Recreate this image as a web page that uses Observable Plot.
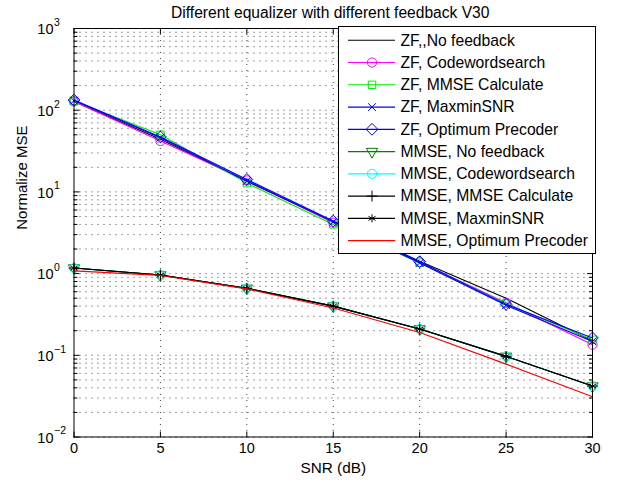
<!DOCTYPE html>
<html><head><meta charset="utf-8">
<script src="https://cdn.jsdelivr.net/npm/d3@7"></script>
<script src="https://cdn.jsdelivr.net/npm/@observablehq/plot@0.6"></script>
<style>
body{margin:0;background:#fff}
svg{font-family:"Liberation Sans",Arial,Helvetica,sans-serif}
</style>
</head><body><div id="chart"></div>
<script>
// ---- data ----
const snr = [0, 5, 10, 15, 20, 25, 30];
const zfNoFeedback      = [128, 44, 13.5, 4.3, 1.42, 0.50, 0.150];
const zfCodeword        = [128, 42, 13.8, 4.2, 1.38, 0.44, 0.135];
const zfMmseCalc        = [130, 50, 12.8, 4.0, 1.36, 0.43, 0.155];
const zfMaxmin          = [131, 46, 13.6, 4.3, 1.35, 0.41, 0.148];
const zfOptimum         = [133, 47, 14.2, 4.4, 1.40, 0.42, 0.163];
const mmseNoFeedback    = [1.17, 0.96, 0.66, 0.40, 0.21, 0.097, 0.042];
const mmseCodeword      = [1.17, 0.96, 0.66, 0.40, 0.21, 0.097, 0.042];
const mmseMmseCalc      = [1.17, 0.96, 0.66, 0.40, 0.21, 0.097, 0.042];
const mmseMaxmin        = [1.17, 0.96, 0.66, 0.40, 0.21, 0.097, 0.042];
const mmseOptimum       = [1.08, 0.95, 0.65, 0.38, 0.19, 0.078, 0.031];

const seriesNames = ["ZF,,No feedback", "ZF, Codewordsearch", "ZF, MMSE Calculate", "ZF, MaxminSNR",
  "ZF, Optimum Precoder", "MMSE, No feedback", "MMSE, Codewordsearch", "MMSE, MMSE Calculate",
  "MMSE, MaxminSNR", "MMSE, Optimum Precoder"];
const seriesValues = [zfNoFeedback, zfCodeword, zfMmseCalc, zfMaxmin, zfOptimum,
  mmseNoFeedback, mmseCodeword, mmseMmseCalc, mmseMaxmin, mmseOptimum];
const seriesColors = ["#000000", "#ff00ff", "#00ee00", "#0000ff", "#0000ff",
  "#008000", "#00ffff", "#000000", "#000000", "#ff0000"];
const seriesSymbols = [null, "circle", "square", "times", "diamond2",
  "triangle", "circle", "plus", "asterisk", null];
const seriesRotate = [0, 0, 0, 0, 0, 180, 0, 0, 0, 0];

const xTicks = [0, 5, 10, 15, 20, 25, 30];
const yExponents = [-2, -1, 0, 1, 2, 3];
const title = "Different equalizer with different feedback V30";
const xLabel = "SNR (dB)";
const yLabel = "Normalize MSE";

// ---- derived ----
const yMajor = yExponents.map(e => Math.pow(10, e));
const yMinor = [];
for (const e of yExponents.slice(0, -1)) for (let m = 2; m <= 9; m++) yMinor.push(m * Math.pow(10, e));
const yGrid = yMajor.concat(yMinor);
const xGrid = xTicks.slice(1, -1);

const symSize = {circle: 4.6, square: 4.2, times: 3.6, diamond2: 5.3, triangle: 4.2, plus: 3.6, asterisk: 3.8};
const tickShape = {draw(ctx, l) { ctx.moveTo(0, 0); ctx.lineTo(0, -l); }};

const marks = [];
marks.push(Plot.ruleY(yGrid, {y: d => d, stroke: "#000", strokeOpacity: 0.75, strokeDasharray: "1,5"}));
marks.push(Plot.ruleX(xGrid, {x: d => d, stroke: "#000", strokeOpacity: 0.75, strokeDasharray: "1,5"}));

seriesValues.forEach((vals, i) => {
  const rows = snr.map((x, j) => ({x, y: vals[j]}));
  marks.push(Plot.line(rows, {x: "x", y: "y", stroke: seriesColors[i], strokeWidth: 1.1}));
  if (seriesSymbols[i]) {
    marks.push(Plot.dot(rows, {x: "x", y: "y", symbol: seriesSymbols[i], r: symSize[seriesSymbols[i]],
      stroke: seriesColors[i], fill: "none", strokeWidth: 1, rotate: seriesRotate[i]}));
  }
});

marks.push(Plot.frame({stroke: "#000", strokeWidth: 1}));
// inward ticks
const vOpts = {shape: tickShape, anchor: "start", stroke: "#000", strokeWidth: 1};
marks.push(Plot.vector(xTicks, {...vOpts, x: d => d, y: 0.01, length: 5, rotate: 0}));
marks.push(Plot.vector(xTicks, {...vOpts, x: d => d, y: 1000, length: 5, rotate: 180}));
marks.push(Plot.vector(yMajor, {...vOpts, x: 0, y: d => d, length: 5, rotate: 90}));
marks.push(Plot.vector(yMajor, {...vOpts, x: 30, y: d => d, length: 5, rotate: -90}));
marks.push(Plot.vector(yMinor, {...vOpts, x: 0, y: d => d, length: 3, rotate: 90}));
marks.push(Plot.vector(yMinor, {...vOpts, x: 30, y: d => d, length: 3, rotate: -90}));

// tick labels
marks.push(Plot.text(xTicks, {x: d => d, y: 0.01, text: d => String(d), dy: 11, lineAnchor: "middle", fontSize: 14.5, fill: "#000"}));
marks.push(Plot.text(yMajor, {x: 0, y: d => d, text: () => "10", textAnchor: "end", dx: -20.5, dy: 1, lineAnchor: "middle", fontSize: 14.5, fill: "#000"}));
marks.push(Plot.text(yExponents, {x: 0, y: d => Math.pow(10, d), text: d => (d < 0 ? "\u2212" + (-d) : String(d)), textAnchor: "start", dx: -20, dy: -6, lineAnchor: "middle", fontSize: 10.5, fill: "#000"}));

// titles
marks.push(Plot.text([title], {frameAnchor: "top", text: d => d, lineAnchor: "bottom", dy: -11, dx: -3, fontSize: 15.6, fill: "#000"}));
marks.push(Plot.text([xLabel], {frameAnchor: "bottom", text: d => d, lineAnchor: "bottom", dy: 35.5, fontSize: 15.3, fill: "#000"}));
marks.push(Plot.text([yLabel], {frameAnchor: "left", text: d => d, rotate: -90, lineAnchor: "middle", dx: -52, dy: -3, fontSize: 15, fill: "#000"}));

const plot = Plot.plot({
  width: 624, height: 487,
  marginTop: 28, marginBottom: 50.5, marginLeft: 73.5, marginRight: 32,
  x: {domain: [0, 30]},
  y: {type: "log", domain: [0.01, 1000]},
  axis: null,
  style: {background: "#fff", fontFamily: "'Liberation Sans', Arial, sans-serif", fontSize: "14px", color: "#000"},
  marks
});
document.getElementById("chart").append(plot);

// legend (drawn on the Plot SVG)
const svg = d3.select(plot);
const lg = svg.append("g").attr("class", "legend").attr("text-anchor", "start");
lg.append("rect").attr("x", 338.5).attr("y", 26.5).attr("width", 257).attr("height", 227)
  .attr("fill", "#fff").attr("stroke", "#000").attr("stroke-width", 1);
const symMap = {circle: d3.symbolCircle, square: d3.symbolSquare, times: d3.symbolTimes,
  diamond2: d3.symbolDiamond2, triangle: d3.symbolTriangle, plus: d3.symbolPlus, asterisk: d3.symbolAsterisk};
seriesNames.forEach((name, i) => {
  const y = 40.3 + i * 22.26;
  lg.append("line").attr("x1", 348).attr("x2", 395).attr("y1", y).attr("y2", y)
    .attr("stroke", seriesColors[i]).attr("stroke-width", 1.1);
  const s = seriesSymbols[i];
  if (s) {
    const r = symSize[s];
    lg.append("path").attr("d", d3.symbol(symMap[s], r * r * Math.PI)())
      .attr("transform", `translate(372,${y}) rotate(${seriesRotate[i]})`)
      .attr("fill", "none").attr("stroke", seriesColors[i]).attr("stroke-width", 1);
  }
  lg.append("text").attr("x", 400.5).attr("y", y + 5.3).attr("font-size", 15.7)
    .attr("text-anchor", "start").attr("fill", "#000").text(name);
});
</script>
</body></html>
